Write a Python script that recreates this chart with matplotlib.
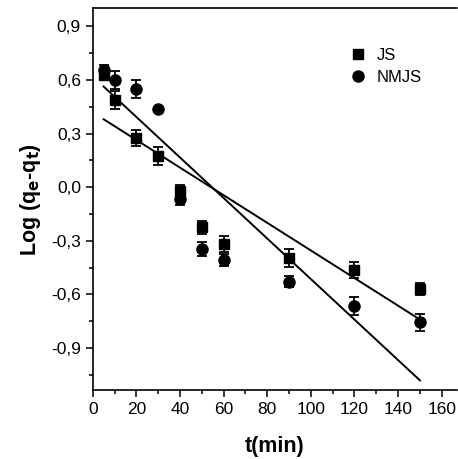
import matplotlib
matplotlib.use("Agg")
import matplotlib.pyplot as plt
import numpy as np
from matplotlib.ticker import MultipleLocator, FuncFormatter
from matplotlib.lines import Line2D

plt.rcParams['font.family'] = ['Liberation Sans', 'DejaVu Sans']

t = [5, 10, 20, 30, 40, 50, 60, 90, 120, 150]
js = [0.63, 0.49, 0.275, 0.175, -0.02, -0.225, -0.318, -0.398, -0.464, -0.57]
js_err = [0.03, 0.05, 0.045, 0.05, 0.035, 0.035, 0.045, 0.05, 0.045, 0.035]
nmjs = [0.655, 0.60, 0.55, 0.44, -0.067, -0.345, -0.408, -0.529, -0.663, -0.756]
nmjs_err = [0.03, 0.05, 0.05, 0.0, 0.03, 0.04, 0.033, 0.03, 0.05, 0.047]

# linear fits (intercept, slope)
js_fit = (0.419, -0.00773)
nmjs_fit = (0.62, -0.01134)
fit_range = (5, 150)

fig = plt.figure(figsize=(4.58, 4.59), dpi=100)
ax = fig.add_axes([0.2024, 0.1503, 0.7954, 0.8312])

ax.errorbar(t, js, yerr=js_err, fmt='s', color='black', ms=7, capsize=3.5,
            elinewidth=1.3, capthick=1.3, zorder=3)
ax.errorbar(t, nmjs, yerr=nmjs_err, fmt='o', color='black', ms=8, capsize=3.5,
            elinewidth=1.3, capthick=1.3, zorder=3)

xf = np.array(fit_range)
ax.plot(xf, js_fit[0] + js_fit[1] * xf, color='black', lw=1.4)
ax.plot(xf, nmjs_fit[0] + nmjs_fit[1] * xf, color='black', lw=1.4)

ax.set_xlim(0, 167)
ax.set_ylim(-1.135, 1.0)
ax.xaxis.set_major_locator(MultipleLocator(20))
ax.xaxis.set_minor_locator(MultipleLocator(10))
ax.yaxis.set_major_locator(MultipleLocator(0.3))
ax.yaxis.set_minor_locator(MultipleLocator(0.15))
ax.yaxis.set_major_formatter(FuncFormatter(lambda v, p: ('%.1f' % v).replace('.', ',').replace('-0,0', '0,0')))

ax.spines['right'].set_visible(False)
for s in ['left', 'bottom', 'top']:
    ax.spines[s].set_linewidth(1.2)
ax.tick_params(axis='both', which='major', direction='out', length=5, width=1.1, labelsize=12.5)
ax.tick_params(axis='both', which='minor', direction='out', length=3, width=1.1)

ax.set_xlabel('t(min)', fontsize=15.5, fontweight='bold', labelpad=14)
ax.set_ylabel('Log (q$_\\mathbf{e}$-q$_\\mathbf{t}$)', fontsize=15.5, fontweight='bold', labelpad=6)

handles = [Line2D([], [], marker='s', color='black', ls='none', ms=7),
           Line2D([], [], marker='o', color='black', ls='none', ms=8)]
ax.legend(handles, ['JS', 'NMJS'], loc='upper left', bbox_to_anchor=(0.66, 0.935),
          frameon=False, fontsize=12, handletextpad=0.5, labelspacing=0.4,
          handlelength=1.2)

fig.savefig('out.png', dpi=100)
